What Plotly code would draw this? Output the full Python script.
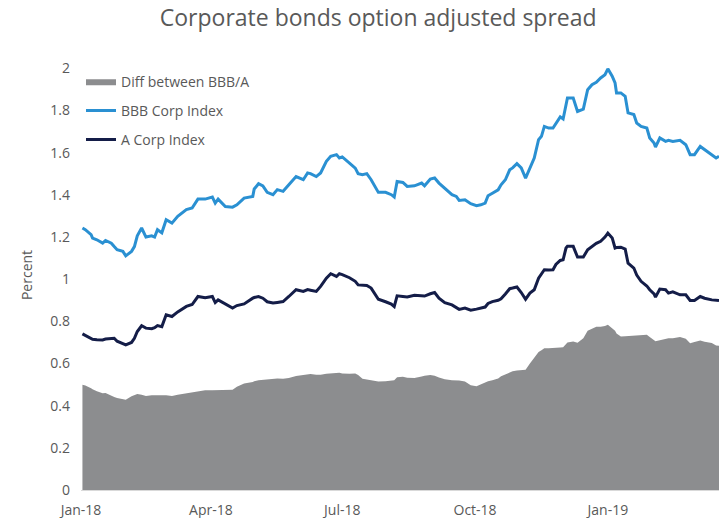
import plotly.graph_objects as go

# Corporate bond option adjusted spreads (percent)
dates = [
    "2018-01-02", "2018-01-04", "2018-01-08", "2018-01-09", "2018-01-12", "2018-01-16", "2018-01-18",
    "2018-01-22", "2018-01-24", "2018-01-26", "2018-01-30", "2018-02-01", "2018-02-05", "2018-02-07",
    "2018-02-09", "2018-02-12", "2018-02-15", "2018-02-19", "2018-02-21", "2018-02-23", "2018-02-26",
    "2018-03-01", "2018-03-05", "2018-03-09", "2018-03-15", "2018-03-19", "2018-03-23", "2018-03-28",
    "2018-04-02", "2018-04-04", "2018-04-06", "2018-04-11", "2018-04-16", "2018-04-19", "2018-04-24",
    "2018-04-30", "2018-05-01", "2018-05-04", "2018-05-07", "2018-05-10", "2018-05-14", "2018-05-17",
    "2018-05-21", "2018-05-25", "2018-05-30", "2018-06-04", "2018-06-07", "2018-06-09", "2018-06-13",
    "2018-06-16", "2018-06-20", "2018-06-23", "2018-06-27", "2018-06-29", "2018-07-01", "2018-07-06",
    "2018-07-10", "2018-07-12", "2018-07-15", "2018-07-18", "2018-07-21", "2018-07-26", "2018-07-31",
    "2018-08-04", "2018-08-06", "2018-08-08", "2018-08-12", "2018-08-15", "2018-08-20", "2018-08-25",
    "2018-08-27", "2018-08-31", "2018-09-03", "2018-09-06", "2018-09-10", "2018-09-15", "2018-09-18",
    "2018-09-20", "2018-09-24", "2018-09-28", "2018-10-02", "2018-10-05", "2018-10-08", "2018-10-10",
    "2018-10-13", "2018-10-17", "2018-10-19", "2018-10-22", "2018-10-25", "2018-10-27", "2018-10-30",
    "2018-11-02", "2018-11-05", "2018-11-08", "2018-11-11", "2018-11-14", "2018-11-16", "2018-11-18",
    "2018-11-21", "2018-11-24", "2018-11-26", "2018-11-29", "2018-12-01", "2018-12-03", "2018-12-04",
    "2018-12-08", "2018-12-11", "2018-12-15", "2018-12-18", "2018-12-21", "2018-12-24", "2018-12-27",
    "2018-12-30", "2019-01-01", "2019-01-04", "2019-01-06", "2019-01-07", "2019-01-10", "2019-01-13",
    "2019-01-15", "2019-01-19", "2019-01-21", "2019-01-24", "2019-01-28", "2019-01-30", "2019-02-02",
    "2019-02-03", "2019-02-06", "2019-02-10", "2019-02-12", "2019-02-15", "2019-02-20", "2019-02-24",
    "2019-02-27", "2019-03-02", "2019-03-06", "2019-03-09", "2019-03-14", "2019-03-17", "2019-03-19",
]

bbb_corp = [
    1.243, 1.235, 1.211, 1.195, 1.187, 1.171, 1.184, 1.171, 1.155, 1.140, 1.132, 1.111, 1.132, 1.155,
    1.206, 1.243, 1.200, 1.206, 1.200, 1.235, 1.220, 1.282, 1.266, 1.298, 1.330, 1.338, 1.380, 1.380,
    1.390, 1.361, 1.380, 1.345, 1.342, 1.353, 1.385, 1.393, 1.428, 1.453, 1.443, 1.412, 1.401, 1.425,
    1.417, 1.448, 1.487, 1.472, 1.504, 1.501, 1.487, 1.504, 1.559, 1.583, 1.591, 1.575, 1.580, 1.551,
    1.527, 1.501, 1.496, 1.501, 1.472, 1.412, 1.412, 1.401, 1.390, 1.464, 1.459, 1.440, 1.443, 1.456,
    1.443, 1.475, 1.480, 1.456, 1.432, 1.401, 1.393, 1.374, 1.377, 1.358, 1.349, 1.353, 1.361, 1.396,
    1.408, 1.424, 1.448, 1.472, 1.519, 1.528, 1.548, 1.528, 1.480, 1.528, 1.575, 1.662, 1.678, 1.725,
    1.717, 1.717, 1.741, 1.770, 1.760, 1.820, 1.860, 1.860, 1.796, 1.807, 1.899, 1.923, 1.934, 1.955,
    1.970, 1.998, 1.963, 1.931, 1.884, 1.884, 1.868, 1.789, 1.781, 1.741, 1.725, 1.717, 1.670, 1.646,
    1.627, 1.670, 1.654, 1.659, 1.654, 1.659, 1.638, 1.591, 1.591, 1.630, 1.614, 1.591, 1.575, 1.583,
]

a_corp = [
    0.741, 0.734, 0.720, 0.715, 0.713, 0.712, 0.716, 0.720, 0.720, 0.706, 0.696, 0.688, 0.700, 0.720,
    0.752, 0.779, 0.768, 0.765, 0.770, 0.780, 0.775, 0.831, 0.823, 0.845, 0.871, 0.880, 0.918, 0.912,
    0.918, 0.889, 0.902, 0.883, 0.863, 0.875, 0.883, 0.910, 0.913, 0.918, 0.910, 0.893, 0.887, 0.890,
    0.894, 0.918, 0.950, 0.942, 0.951, 0.948, 0.942, 0.966, 1.005, 1.026, 1.013, 1.026, 1.022, 1.007,
    0.990, 0.973, 0.973, 0.970, 0.958, 0.905, 0.893, 0.882, 0.870, 0.921, 0.918, 0.916, 0.924, 0.920,
    0.920, 0.931, 0.937, 0.910, 0.889, 0.878, 0.866, 0.857, 0.863, 0.853, 0.858, 0.863, 0.868, 0.885,
    0.894, 0.900, 0.907, 0.930, 0.955, 0.958, 0.963, 0.937, 0.905, 0.934, 0.950, 1.005, 1.025, 1.045,
    1.044, 1.045, 1.070, 1.089, 1.092, 1.148, 1.156, 1.156, 1.105, 1.105, 1.140, 1.155, 1.170, 1.180,
    1.200, 1.219, 1.196, 1.148, 1.150, 1.152, 1.143, 1.076, 1.053, 1.020, 0.990, 0.968, 0.950, 0.930,
    0.915, 0.953, 0.950, 0.934, 0.940, 0.926, 0.926, 0.899, 0.899, 0.918, 0.910, 0.902, 0.900, 0.899,
]

diff_bbb_a = [
    0.499, 0.496, 0.483, 0.478, 0.469, 0.459, 0.460, 0.446, 0.441, 0.437, 0.431, 0.428, 0.445, 0.452,
    0.456, 0.452, 0.446, 0.449, 0.450, 0.451, 0.450, 0.449, 0.446, 0.452, 0.459, 0.465, 0.469, 0.473,
    0.473, 0.473, 0.474, 0.475, 0.476, 0.490, 0.505, 0.512, 0.516, 0.521, 0.523, 0.525, 0.528, 0.529,
    0.528, 0.531, 0.541, 0.547, 0.551, 0.550, 0.547, 0.547, 0.551, 0.553, 0.558, 0.556, 0.553, 0.551,
    0.553, 0.545, 0.528, 0.524, 0.521, 0.515, 0.516, 0.518, 0.521, 0.535, 0.537, 0.533, 0.531, 0.538,
    0.542, 0.546, 0.542, 0.534, 0.526, 0.521, 0.520, 0.520, 0.515, 0.497, 0.492, 0.501, 0.510, 0.516,
    0.521, 0.529, 0.540, 0.550, 0.558, 0.563, 0.567, 0.568, 0.570, 0.600, 0.630, 0.655, 0.663, 0.673,
    0.673, 0.673, 0.674, 0.676, 0.677, 0.695, 0.700, 0.704, 0.698, 0.720, 0.755, 0.765, 0.775, 0.775,
    0.778, 0.784, 0.765, 0.755, 0.742, 0.728, 0.729, 0.730, 0.731, 0.732, 0.734, 0.736, 0.726, 0.714,
    0.706, 0.710, 0.716, 0.720, 0.720, 0.726, 0.718, 0.696, 0.702, 0.709, 0.703, 0.697, 0.686, 0.684,
]

TEXT = "#595959"
FONT = "Open Sans"

fig = go.Figure()

fig.add_trace(go.Scatter(
    x=dates, y=diff_bbb_a, name="Diff between BBB/A",
    mode="lines", fill="tozeroy",
    line=dict(width=0, color="#8c8d8f"), fillcolor="#8c8d8f",
    legendgroup="g1",
))
fig.add_trace(go.Scatter(
    x=dates, y=bbb_corp, name="BBB Corp Index",
    mode="lines", line=dict(width=3, color="#2a90d2"),
    legendgroup="g2",
))
fig.add_trace(go.Scatter(
    x=dates, y=a_corp, name="A Corp Index",
    mode="lines", line=dict(width=3, color="#141d48"),
    legendgroup="g3",
))

fig.update_layout(
    width=719, height=518,
    margin=dict(l=81, r=0, t=60, b=28),
    paper_bgcolor="white", plot_bgcolor="white",
    font=dict(family=FONT, size=14, color=TEXT),
    title=dict(
        text="Corporate bonds option adjusted spread",
        x=0.526, xanchor="center", y=0.966, yanchor="middle",
        font=dict(family=FONT, size=23, color=TEXT),
    ),
    showlegend=True,
    legend=dict(
        x=0.0, y=0.987, xanchor="left", yanchor="top",
        bgcolor="rgba(0,0,0,0)", tracegroupgap=8,
        font=dict(family=FONT, size=14, color=TEXT),
        itemwidth=30, traceorder="grouped",
    ),
    xaxis=dict(
        type="date",
        range=["2018-01-01", "2019-03-19"],
        dtick="M3", tick0="2018-01-01", tickformat="%b-%y",
        showgrid=False, zeroline=False,
        showline=True, linecolor="#d9d9d9", linewidth=1,
        ticks="", ticklabelstandoff=7, automargin=False,
        tickfont=dict(family=FONT, size=14, color=TEXT),
    ),
    yaxis=dict(
        range=[0, 2.04], dtick=0.2, tick0=0,
        showgrid=False, zeroline=False, showline=False,
        ticks="", ticklabelstandoff=10, automargin=False,
        tickfont=dict(family=FONT, size=14, color=TEXT),
        title=dict(text="Percent", standoff=14,
                   font=dict(family=FONT, size=14, color=TEXT)),
    ),
)

fig.write_html("out.html")
